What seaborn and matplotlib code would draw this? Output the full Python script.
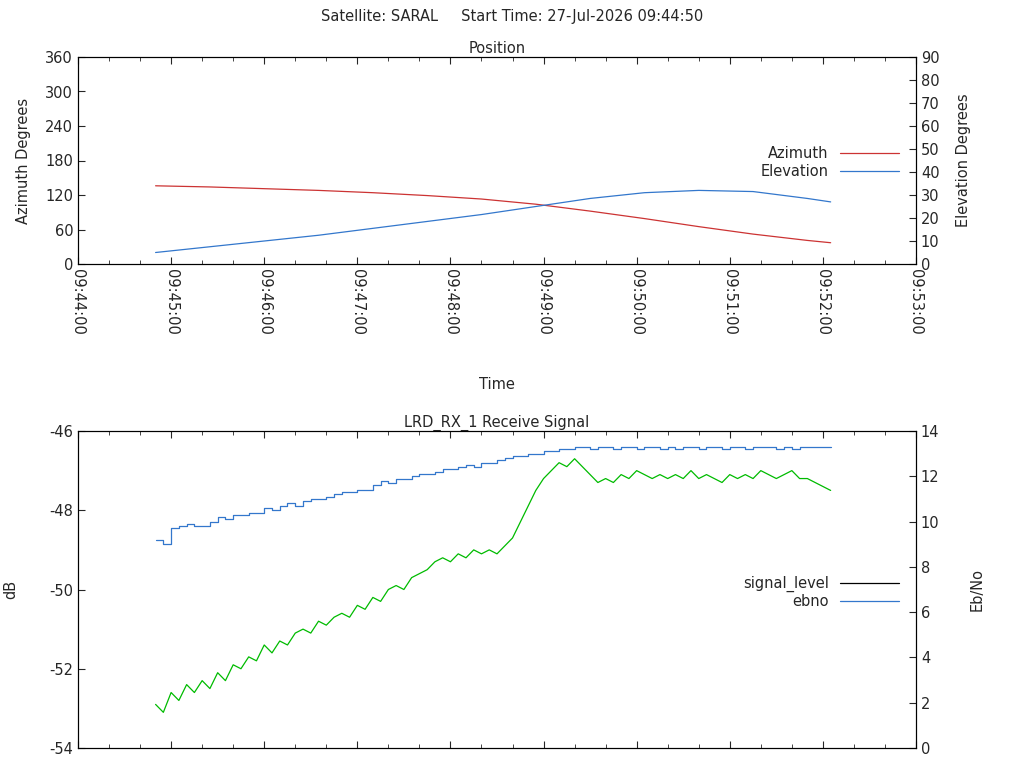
import matplotlib
matplotlib.use("Agg")
import matplotlib.pyplot as plt
import matplotlib.dates as mdates
import seaborn as sns
import pandas as pd
from matplotlib.lines import Line2D

sns.set_style("white")
plt.rcParams['font.family'] = ['DejaVu Sans']
plt.rcParams['xtick.direction'] = 'in'
plt.rcParams['ytick.direction'] = 'in'
plt.rcParams['axes.unicode_minus'] = False

# Position data (from 09:44:50 to 09:52:05)
pos_times = ["09:44:50","09:45:25","09:46:00","09:46:35","09:47:10","09:47:45","09:48:20","09:48:55",
             "09:49:30","09:50:05","09:50:40","09:51:15","09:51:50","09:52:05"]
azimuth = [136, 134, 131, 128, 124, 119, 113, 104, 92, 79, 65, 52, 41, 37]
elevation = [5, 7.5, 10, 12.5, 15.5, 18.5, 21.5, 25, 28.5, 31, 32, 31.5, 28.5, 27]

# Signal data (every 5 s from 09:44:50)
signal_level = [-52.9,-53.1,-52.6,-52.8,-52.4,-52.6,-52.3,-52.5,-52.1,-52.3,-51.9,-52.0,
                -51.7,-51.8,-51.4,-51.6,-51.3,-51.4,-51.1,-51.0,-51.1,-50.8,-50.9,-50.7,
                -50.6,-50.7,-50.4,-50.5,-50.2,-50.3,-50.0,-49.9,-50.0,-49.7,-49.6,-49.5,
                -49.3,-49.2,-49.3,-49.1,-49.2,-49.0,-49.1,-49.0,-49.1,-48.9,-48.7,-48.3,
                -47.9,-47.5,-47.2,-47.0,-46.8,-46.9,-46.7,-46.9,-47.1,-47.3,-47.2,-47.3,
                -47.1,-47.2,-47.0,-47.1,-47.2,-47.1,-47.2,-47.1,-47.2,-47.0,-47.2,-47.1,
                -47.2,-47.3,-47.1,-47.2,-47.1,-47.2,-47.0,-47.1,-47.2,-47.1,-47.0,-47.2,
                -47.2,-47.3,-47.4,-47.5]
ebno = [9.2,9.0,9.7,9.8,9.9,9.8,9.8,10.0,10.2,10.1,10.3,10.3,10.4,10.4,10.6,10.5,10.7,10.8,
        10.7,10.9,11.0,11.0,11.1,11.2,11.3,11.3,11.4,11.4,11.6,11.8,11.7,11.9,11.9,12.0,12.1,12.1,
        12.2,12.3,12.3,12.4,12.5,12.4,12.6,12.6,12.7,12.8,12.9,12.9,13.0,13.0,13.1,13.1,13.2,13.2,
        13.3,13.3,13.2,13.3,13.3,13.2,13.3,13.3,13.2,13.3,13.3,13.2,13.3,13.2,13.3,13.3,13.2,13.3,
        13.3,13.2,13.3,13.3,13.2,13.3,13.3,13.3,13.2,13.3,13.2,13.3,13.3,13.3,13.3,13.3]

day = "2026-07-27 "
pos = pd.DataFrame({"t": pd.to_datetime([day + s for s in pos_times]),
                    "az": azimuth, "el": elevation})
sig_t = pd.date_range(day + "09:44:50", periods=len(signal_level), freq="5s")
sig = pd.DataFrame({"t": sig_t, "sl": signal_level, "eb": ebno})

FS = 10.5
fig = plt.figure(figsize=(10.24, 7.68), dpi=100)
fig.text(0.5, 1 - 17/768, "Satellite: SARAL     Start Time: 27-Jul-2026 09:44:50", ha="center", va="center", fontsize=FS)

xmin = pd.Timestamp(day + "09:44:00"); xmax = pd.Timestamp(day + "09:53:00")

def style_x(ax, labels):
    ax.set_xlim(xmin, xmax)
    ax.xaxis.set_major_locator(mdates.MinuteLocator())
    ax.xaxis.set_minor_locator(mdates.SecondLocator(bysecond=[20, 40]))
    ax.xaxis.set_major_formatter(mdates.DateFormatter("%H:%M:%S"))
    ax.tick_params(axis="x", which="both", top=True, bottom=True, length=5, labelsize=FS)
    ax.tick_params(axis="x", which="minor", length=3)
    if labels:
        for lab in ax.get_xticklabels():
            lab.set_rotation(-90)
    else:
        ax.set_xticklabels([])

ax1 = fig.add_axes([78/1024, 1 - 264/768, 838/1024, 207/768])
ax1b = ax1.twinx()
sns.lineplot(data=pos, x="t", y="az", ax=ax1, color="#cc3333", lw=0.9)
sns.lineplot(data=pos, x="t", y="el", ax=ax1b, color="#3377cc", lw=0.9)
ax1.set_ylim(0, 360); ax1.set_yticks(range(0, 361, 60))
ax1b.set_ylim(0, 90); ax1b.set_yticks(range(0, 91, 10))
style_x(ax1, True)
ax1b.set_xlim(xmin, xmax)
ax1.set_ylabel("Azimuth Degrees", fontsize=FS, labelpad=10)
ax1b.set_ylabel("Elevation Degrees", fontsize=FS, labelpad=12)
ax1.set_xlabel("Time", fontsize=FS, labelpad=30)
ax1.set_title("Position", fontsize=FS, pad=3)
ax1.legend(handles=[Line2D([], [], color="#cc3333", lw=0.9), Line2D([], [], color="#3377cc", lw=0.9)],
           labels=["Azimuth", "Elevation"], loc="center right", bbox_to_anchor=(0.995, 0.49),
           frameon=False, markerfirst=False, fontsize=FS, handlelength=4, labelspacing=0.15)

ax2 = fig.add_axes([78/1024, 1 - 748/768, 838/1024, 317/768])
ax2b = ax2.twinx()
sns.lineplot(data=sig, x="t", y="sl", ax=ax2, color="#00bb00", lw=0.9)
sns.lineplot(data=sig, x="t", y="eb", ax=ax2b, color="#3377cc", lw=0.9, drawstyle="steps-post")
ax2.set_ylim(-54, -46); ax2.set_yticks(range(-54, -45, 2))
ax2b.set_ylim(0, 14); ax2b.set_yticks(range(0, 15, 2))
style_x(ax2, False)
ax2b.set_xlim(xmin, xmax)
ax2.set_xlabel("")
ax2.set_ylabel("dB", fontsize=FS, labelpad=22)
ax2b.set_ylabel("Eb/No", fontsize=FS, labelpad=22)
ax2.set_title("LRD_RX_1 Receive Signal", fontsize=FS, pad=3)
ax2.legend(handles=[Line2D([], [], color="black", lw=0.9), Line2D([], [], color="#3377cc", lw=0.9)],
           labels=["signal_level", "ebno"], loc="center right", bbox_to_anchor=(0.995, 0.49),
           frameon=False, markerfirst=False, fontsize=FS, handlelength=4, labelspacing=0.15)

for a in (ax1, ax1b, ax2, ax2b):
    a.tick_params(axis="y", labelsize=FS, length=5)
    for s in a.spines.values():
        s.set_color("black"); s.set_linewidth(0.8)

fig.savefig("out.png", dpi=100)
